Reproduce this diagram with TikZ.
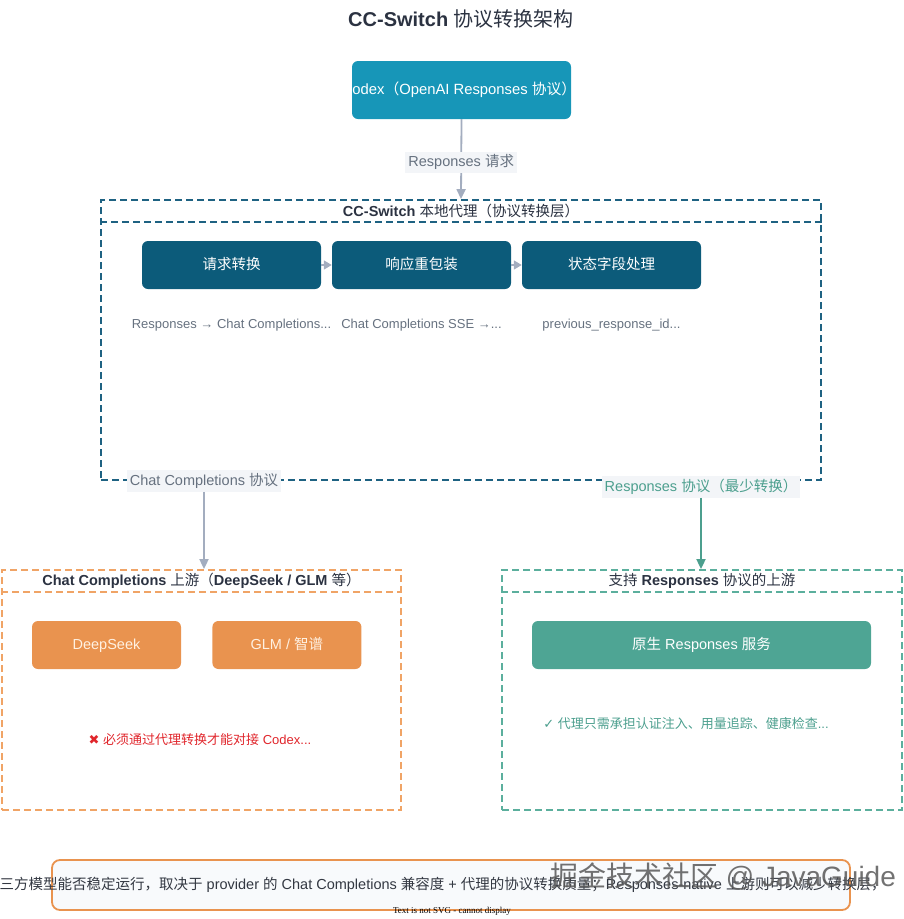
\documentclass[tikz,border=0pt]{standalone}
\usepackage{fontspec}
\setmainfont{Liberation Sans}
\newfontfamily\cjkfont{Noto Sans CJK SC}
\newfontfamily\symfont{DejaVu Sans}
\newfontfamily\notefont{Liberation Serif}
% CJK runs switch to the CJK font on their own
\newXeTeXintercharclass\cjkcls
\makeatletter
\count@="3000
\loop\ifnum\count@<"3040 \XeTeXcharclass\count@=\cjkcls \advance\count@ by 1 \repeat
\count@="4E00
\loop\ifnum\count@<"A000 \XeTeXcharclass\count@=\cjkcls \advance\count@ by 1 \repeat
\count@="FF00
\loop\ifnum\count@<"FFF0 \XeTeXcharclass\count@=\cjkcls \advance\count@ by 1 \repeat
\makeatother
\XeTeXinterchartoks 0 \cjkcls = {\begingroup\mdseries\cjkfont}
\XeTeXinterchartoks 4095 \cjkcls = {\begingroup\mdseries\cjkfont}
\XeTeXinterchartoks \cjkcls 0 = {\endgroup}
\XeTeXinterchartoks \cjkcls 4095 = {\endgroup}
\XeTeXinterchartokenstate=1
\usetikzlibrary{arrows.meta,positioning,calc}
\definecolor{ccteal}{HTML}{1796B8}
\definecolor{ccnavy}{HTML}{0C5B7A}
\definecolor{ccproxy}{HTML}{1E6282}
\definecolor{ccarrow}{HTML}{A3ADBF}
\definecolor{ccpanel}{HTML}{F3F5F8}
\definecolor{ccmute}{HTML}{66717F}
\definecolor{ccink}{HTML}{2B3241}
\definecolor{ccorangeline}{HTML}{F0A466}
\definecolor{ccorangebox}{HTML}{E9934F}
\definecolor{ccorangetext}{HTML}{FFF1E2}
\definecolor{ccgreenline}{HTML}{5BAF9D}
\definecolor{ccgreenbox}{HTML}{4EA594}
\definecolor{ccgreen}{HTML}{4C9F8E}
\definecolor{ccred}{HTML}{E0252B}
\definecolor{ccnote}{HTML}{F8FAFC}
\definecolor{ccnotetext}{HTML}{333842}
\tikzset{
  bx/.style={rounded corners=6pt, align=center, font=\fontsize{14.5}{17}\selectfont, text=white, inner sep=2pt, text height=11pt, text depth=3pt},
  stage/.style={bx, fill=ccnavy, minimum width=179pt, minimum height=48pt},
  vendor/.style={bx, fill=ccorangebox, text=ccorangetext, minimum width=149pt, minimum height=48pt},
  grp/.style={line width=1.8pt, dash pattern=on 7pt off 4pt},
  ttl/.style={font=\bfseries\fontsize{20}{24}\selectfont, text=ccink},
  hdr/.style={font=\bfseries\fontsize{14.5}{17}\selectfont, text=ccink},
  sub/.style={font=\fontsize{13}{16}\selectfont, text=ccmute},
  elbl/.style={fill=ccpanel, font=\fontsize{14.5}{17}\selectfont, text=ccmute, inner sep=3pt},
  arr/.style={-{Triangle[length=10pt, width=9pt]}, line width=1.8pt, draw=ccarrow},
  arrsm/.style={-{Triangle[length=8pt, width=9pt]}, line width=1.5pt, draw=ccarrow},
}
\begin{document}
\begin{tikzpicture}[x=1pt, y=-1pt]
  \useasboundingbox (0,0) rectangle (903,919);
  \node[ttl] (title) at (461,19) {CC-Switch 协议转换架构};
  % client
  \node[bx, fill=ccteal, minimum width=219pt, minimum height=58pt] (codex) at (461.5,90) {};
  \node[font=\fontsize{14.8}{17}\selectfont, text=white] (codextxt) at (459,90) {Codex（OpenAI Responses 协议）};
  % proxy layer
  \node[grp, draw=ccproxy, minimum width=720pt, minimum height=280pt] (proxy) at (461,340) {};
  \draw[grp, draw=ccproxy] ($(proxy.north west)+(0,23)$) -- ($(proxy.north east)+(0,23)$);
  \node[hdr] (proxyhdr) at ($(proxy.north)+(0,11.5)$) {CC-Switch 本地代理（协议转换层）};
  \foreach \n/\x/\ti/\su in {
    req/231.5/{请求转换}/{Responses → Chat Completions...},
    resp/421.5/{响应重包装}/{Chat Completions SSE →...},
    state/611.5/{状态字段处理}/{previous\_response\_id...}}
  {
    \node[stage] (\n) at (\x,265) {\ti};
    \node[sub] (\n sub) at ($(\n.south)+(0,36)$) {\su};
  }
  \foreach \a/\b in {req/resp,resp/state} \draw[arrsm] (\a.east) -- (\b.west);
  \draw[arr] (codex.south) -- (proxy.north) node[elbl, pos=0.54] (lblreq) {Responses 请求};
  % chat completions upstream
  \node[grp, draw=ccorangeline, minimum width=399pt, minimum height=240pt] (ccup) at (201.5,690) {};
  \draw[grp, draw=ccorangeline] ($(ccup.north west)+(0,23)$) -- ($(ccup.north east)+(0,23)$);
  \node[hdr] (ccuphdr) at ($(ccup.north)+(0,11.5)$) {Chat Completions 上游（DeepSeek / GLM 等）};
  \node[vendor] (deepseek) at (106.5,645) {DeepSeek};
  \node[vendor, right=31pt of deepseek] (glm) {GLM / 智谱};
  \node[sub, text=ccred] (ccwarn) at (200,740) {{\symfont ✖} 必须通过代理转换才能对接 Codex...};
  % responses upstream
  \node[grp, draw=ccgreenline, minimum width=400pt, minimum height=240pt] (rsup) at (702,690) {};
  \draw[grp, draw=ccgreenline] ($(rsup.north west)+(0,23)$) -- ($(rsup.north east)+(0,23)$);
  \node[hdr] (rsuphdr) at ($(rsup.north)+(0,11.5)$) {支持 Responses 协议的上游};
  \node[bx, fill=ccgreenbox, minimum width=339pt, minimum height=48pt] (native) at (701.5,645) {原生 Responses 服务};
  \node[sub, text=ccgreen] (rsok) at (686,724) {{\symfont ✓} 代理只需承担认证注入、用量追踪、健康检查...};
  % protocol edges
  \node[elbl] (lblcc) at (204,481) {Chat Completions 协议};
  \node[elbl, text=ccgreen] (lblrs) at (701,487) {Responses 协议（最少转换）};
  \draw[arr] (lblcc.south) -- (lblcc.south |- ccup.north);
  \draw[arr, draw=ccgreen] (lblrs.south) -- (lblrs.south |- rsup.north);
  % note
  \node[draw=ccorangebox, line width=1.8pt, fill=ccnote, rounded corners=8pt, minimum width=798pt, minimum height=50pt] (note) at (451,885) {};
  \node[anchor=west, inner sep=0pt, font=\fontsize{14.5}{17}\selectfont, text=ccnotetext] (notetxt) at (-15,885) {第三方模型能否稳定运行，取决于 provider 的 Chat Completions 兼容度 + 代理的协议转换质量；Responses-native 上游则可以减少转换层，};
  \node[font=\fontsize{28}{30}\selectfont, text=black!65, opacity=.85] (mark) at (723,877) {掘金技术社区 @ JavaGuide};
  \node[font=\notefont\fontsize{9}{10}\selectfont, inner sep=0pt] (svgnote) at (452,911) {Text is not SVG - cannot display};
\end{tikzpicture}
\end{document}
